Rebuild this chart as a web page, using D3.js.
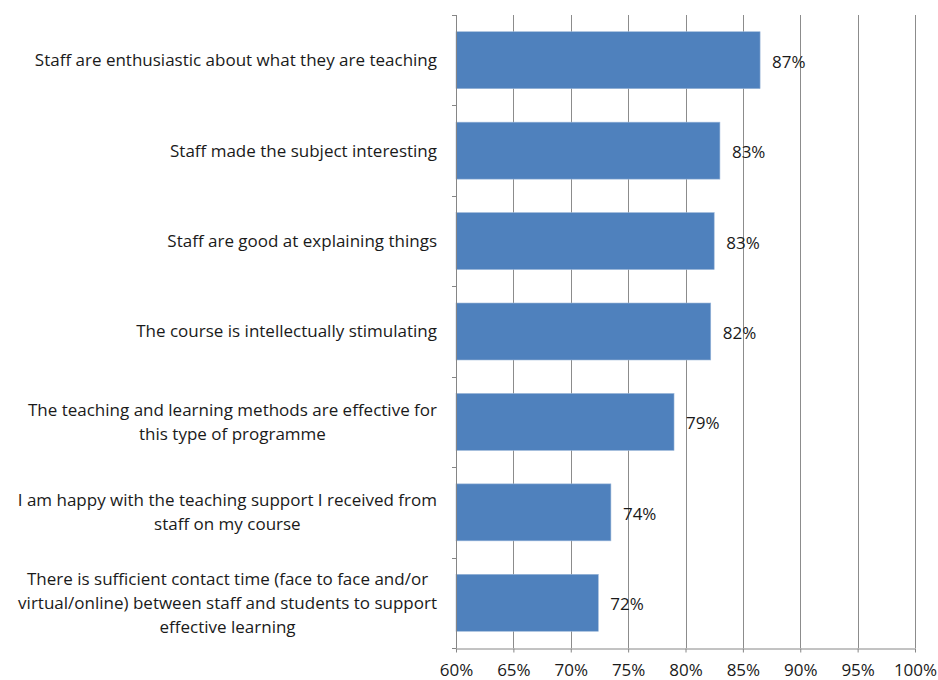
<!DOCTYPE html>
<html>
<head>
<meta charset="utf-8">
<script src="https://cdn.jsdelivr.net/npm/d3@7"></script>
<style>
  body { margin: 0; background: #fff; }
  svg text { font-family: "Open Sans", Lato, sans-serif; fill: #1a1a1a; }
</style>
</head>
<body>
<svg id="chart" width="938" height="680"></svg>
<script>
// survey statements, top to bottom
var categories = [
  "Staff are enthusiastic about what they are teaching",
  "Staff made the subject interesting",
  "Staff are good at explaining things",
  "The course is intellectually stimulating",
  "The teaching and learning methods are effective for\nthis type of programme",
  "I am happy with the teaching support I received from\nstaff on my course",
  "There is sufficient contact time (face to face and/or\nvirtual/online) between staff and students to support\neffective learning"
];
var values = [86.5, 83.0, 82.5, 82.2, 79.0, 73.5, 72.4];
var valueLabels = ["87%", "83%", "83%", "82%", "79%", "74%", "72%"];
var xTicks = [60, 65, 70, 75, 80, 85, 90, 95, 100];

var svg = d3.select("#chart");
var plotLeft = 456, plotRight = 915, plotTop = 15, plotBottom = 648;
var fontSize = 17;

var x = d3.scaleLinear().domain([60, 100]).range([plotLeft, plotRight]);
var y = d3.scaleBand().domain(categories).range([plotTop, plotBottom])
  .paddingInner(0.37).paddingOuter(0.185);

// vertical gridlines
svg.append("g")
  .selectAll("line")
  .data(xTicks.slice(1))
  .enter().append("line")
  .attr("x1", d => Math.round(x(d)) + 0.5).attr("x2", d => Math.round(x(d)) + 0.5)
  .attr("y1", plotTop).attr("y2", plotBottom)
  .attr("stroke", "#8c8c8c").attr("stroke-width", 1);

// bars
svg.append("g")
  .selectAll("rect")
  .data(values)
  .enter().append("rect")
  .attr("x", x(60))
  .attr("y", (d, i) => y(categories[i]))
  .attr("width", d => x(d) - x(60))
  .attr("height", y.bandwidth())
  .attr("fill", "#4f81bd")
  .attr("stroke", "#9bb7d9").attr("stroke-width", 0.6);

// value labels
svg.append("g")
  .selectAll("text")
  .data(values)
  .enter().append("text")
  .attr("x", d => x(d) + 12)
  .attr("y", (d, i) => y(categories[i]) + y.bandwidth() / 2 + 1.5)
  .attr("dy", "0.35em")
  .attr("font-size", fontSize)
  .text((d, i) => valueLabels[i]);

// bottom axis
var xAxis = d3.axisBottom(x).tickValues(xTicks).tickSize(4).tickSizeOuter(0)
  .tickFormat(d => d + "%");
var gx = svg.append("g").attr("transform", "translate(0," + (plotBottom + 0.5) + ")").call(xAxis);
gx.select(".domain").attr("stroke", "#868686");
gx.selectAll(".tick line").attr("stroke", "#868686");
gx.selectAll(".tick text").attr("font-size", fontSize).attr("y", 27.5).attr("dy", 0)
  .style("font-family", "'Open Sans', Lato, sans-serif").attr("fill", "#1a1a1a");

// left axis with ticks at category boundaries
svg.append("line")
  .attr("x1", plotLeft + 0.5).attr("x2", plotLeft + 0.5)
  .attr("y1", plotTop).attr("y2", plotBottom)
  .attr("stroke", "#868686");
var bounds = d3.range(categories.length + 1).map(i => plotTop + i * y.step());
svg.append("g")
  .selectAll("line")
  .data(bounds)
  .enter().append("line")
  .attr("x1", plotLeft - 4).attr("x2", plotLeft + 0.5)
  .attr("y1", d => Math.round(d) + 0.5).attr("y2", d => Math.round(d) + 0.5)
  .attr("stroke", "#868686");

// category labels, lines centred within a right-aligned block
var labelRight = 437, lineHeight = 24;
categories.forEach(function (c) {
  var lines = c.split("\n");
  var cy = y(c) + y.bandwidth() / 2;
  var texts = svg.append("g").selectAll("text")
    .data(lines)
    .enter().append("text")
    .attr("font-size", fontSize)
    .attr("text-anchor", "middle")
    .attr("y", (d, j) => cy + (j - (lines.length - 1) / 2) * lineHeight)
    .attr("dy", "0.35em")
    .text(d => d);
  var maxW = d3.max(texts.nodes(), n => n.getComputedTextLength());
  texts.attr("x", labelRight - maxW / 2);
});
</script>
</body>
</html>
